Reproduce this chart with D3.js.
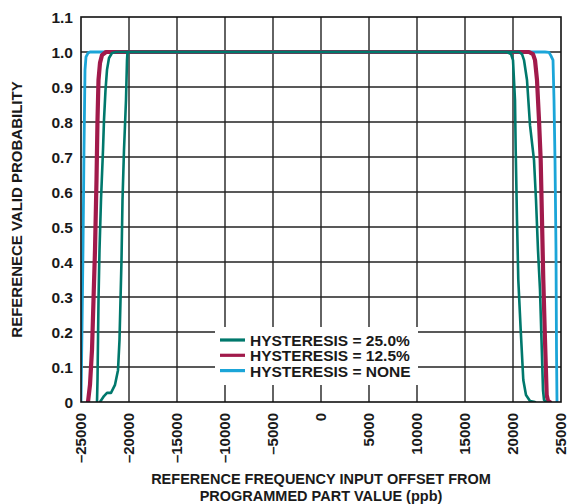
<!DOCTYPE html>
<html>
<head>
<meta charset="utf-8">
<script src="https://cdn.jsdelivr.net/npm/d3@7"></script>
<style>
  html, body { margin: 0; padding: 0; background: #fff; }
  svg { display: block; }
  text { font-family: "Liberation Sans", Arial, sans-serif; font-weight: bold; fill: #1a1a1a; }
</style>
</head>
<body>
<svg id="chart" width="571" height="504"></svg>
<script>
// ---------- data ----------
const xTicks = [-25000, -20000, -15000, -10000, -5000, 0, 5000, 10000, 15000, 20000, 25000];
const yTicks = [0, 0.1, 0.2, 0.3, 0.4, 0.5, 0.6, 0.7, 0.8, 0.9, 1.0, 1.1];
const legendLabels = ["HYSTERESIS = 25.0%", "HYSTERESIS = 12.5%", "HYSTERESIS = NONE"];
const seriesColors = ["#00786c", "#a11a4b", "#1ba5d8"];

// hysteresis 25.0% — two sweeps
const teal1X = [-23021, -22604, -22292, -21875, -21458, -21146, -20990, -20885, -20781, -20677, -20521, -20313, -20208, -20156,
                19375, 19792, 20000, 20208, 20281, 20417, 20552, 20802, 21073, 21354, 21771, 22292];
const teal1P = [0, 0.017, 0.026, 0.026, 0.049, 0.091, 0.177, 0.291, 0.406, 0.577, 0.72, 0.863, 0.977, 1.0,
                1.0, 0.994, 0.977, 0.863, 0.72, 0.52, 0.349, 0.206, 0.063, 0.02, 0.003, 0];
const teal2X = [-23333, -23281, -23177, -23073, -22917, -22708, -22604, -22448, -22292, -22083, -21771, -21354,
                20625, 20938, 21146, 21458, 21771, 22188, 22396, 22604, 22813, 22969, 23125, 23229, 23438];
const teal2P = [0, 0.063, 0.291, 0.434, 0.577, 0.72, 0.806, 0.891, 0.949, 0.983, 0.997, 1.0,
                1.0, 0.994, 0.977, 0.92, 0.791, 0.691, 0.577, 0.434, 0.32, 0.177, 0.034, 0.006, 0];
// hysteresis 12.5%
const crimsonX = [-24271, -24063, -23854, -23698, -23542, -23385, -23281, -23177, -23021, -22813, -22396,
                  21667, 22083, 22292, 22500, 22708, 22885, 23021, 23156, 23333, 23510, 23646, 23854];
const crimsonP = [0, 0.049, 0.149, 0.291, 0.434, 0.634, 0.806, 0.92, 0.969, 0.991, 1.0,
                  1.0, 0.994, 0.977, 0.92, 0.806, 0.691, 0.52, 0.349, 0.177, 0.02, 0.003, 0];
// hysteresis none
const cyanX = [-25000, -24896, -24792, -24688, -24583, -24479, -24271, -24063,
               23333, 23750, 23958, 24167, 24271, 24375, 24479, 24531, 24583];
const cyanP = [0, 0.206, 0.434, 0.72, 0.949, 0.986, 0.997, 1.0,
               1.0, 0.999, 0.989, 0.977, 0.863, 0.691, 0.434, 0.149, 0];

// ---------- layout ----------
const svg = d3.select("#chart");
const L = 81, R = 561, T = 17, B = 402;
const x = d3.scaleLinear().domain([-25000, 25000]).range([L, R]);
const y = d3.scaleLinear().domain([0, 1.1]).range([B, T]);

// grid
const grid = svg.append("g");
grid.selectAll("line.v").data(xTicks.slice(1, -1)).join("line")
  .attr("x1", d => x(d)).attr("x2", d => x(d)).attr("y1", T).attr("y2", B)
  .attr("stroke", "#222").attr("stroke-width", 1.4);
grid.selectAll("line.h").data(yTicks.slice(1, -1)).join("line")
  .attr("x1", L).attr("x2", R).attr("y1", d => y(d)).attr("y2", d => y(d))
  .attr("stroke", "#222").attr("stroke-width", 1.4);

// curves
svg.append("clipPath").attr("id", "clip").append("rect")
  .attr("x", L).attr("y", T - 2).attr("width", R - L).attr("height", B - T + 2);
const line = d3.line().x(d => x(d[0])).y(d => y(d[1]));
const zip = (xs, ps) => xs.map((v, i) => [v, ps[i]]);
const curves = [
  { pts: zip(cyanX, cyanP), color: seriesColors[2], w: 2.8 },
  { pts: zip(crimsonX, crimsonP), color: seriesColors[1], w: 4.2 },
  { pts: zip(teal2X, teal2P), color: seriesColors[0], w: 2.6 },
  { pts: zip(teal1X, teal1P), color: seriesColors[0], w: 2.6 }
];
const cg = svg.append("g").attr("clip-path", "url(#clip)");
curves.forEach(c => {
  cg.append("path").attr("d", line(c.pts)).attr("fill", "none")
    .attr("stroke", c.color).attr("stroke-width", c.w)
    .attr("stroke-linejoin", "round").attr("stroke-linecap", "round");
});

// frame
svg.append("rect").attr("x", L).attr("y", T).attr("width", R - L).attr("height", B - T)
  .attr("fill", "none").attr("stroke", "#111").attr("stroke-width", 1.6);

// y tick labels
svg.append("g").selectAll("text").data(yTicks).join("text")
  .attr("x", L - 8).attr("y", d => y(d)).attr("dy", "0.36em")
  .attr("text-anchor", "end").attr("font-size", 15.5)
  .text(d => d === 0 ? "0" : d.toFixed(1));

// x tick labels (rotated)
svg.append("g").selectAll("text").data(xTicks).join("text")
  .attr("transform", d => `translate(${x(d)},${B + 11}) rotate(-90)`)
  .attr("dy", "0.36em").attr("text-anchor", "end").attr("font-size", 15)
  .text(d => d < 0 ? "\u2013" + Math.abs(d) : String(d));

// axis titles
svg.append("text").attr("x", (L + R) / 2).attr("y", 484).attr("text-anchor", "middle")
  .attr("font-size", 14.5).text("REFERENCE FREQUENCY INPUT OFFSET FROM");
svg.append("text").attr("x", (L + R) / 2).attr("y", 501).attr("text-anchor", "middle")
  .attr("font-size", 14.5).text("PROGRAMMED PART VALUE (ppb)");
svg.append("text").attr("transform", `translate(22,${(T + B) / 2}) rotate(-90)`)
  .attr("text-anchor", "middle").attr("font-size", 15).text("REFERENECE VALID PROBABILITY");

// legend
const lg = svg.append("g");
lg.append("rect").attr("x", 215).attr("y", 327).attr("width", 203).attr("height", 58).attr("fill", "#fff");
const legendColors = [seriesColors[0], seriesColors[1], seriesColors[2]];
legendLabels.forEach((lab, i) => {
  const yy = 340 + i * 15.3;
  lg.append("line").attr("x1", 220).attr("x2", 245).attr("y1", yy).attr("y2", yy)
    .attr("stroke", legendColors[i]).attr("stroke-width", 3.2);
  lg.append("text").attr("x", 250).attr("y", yy + 6).attr("font-size", 15.5).text(lab);
});
</script>
</body>
</html>
